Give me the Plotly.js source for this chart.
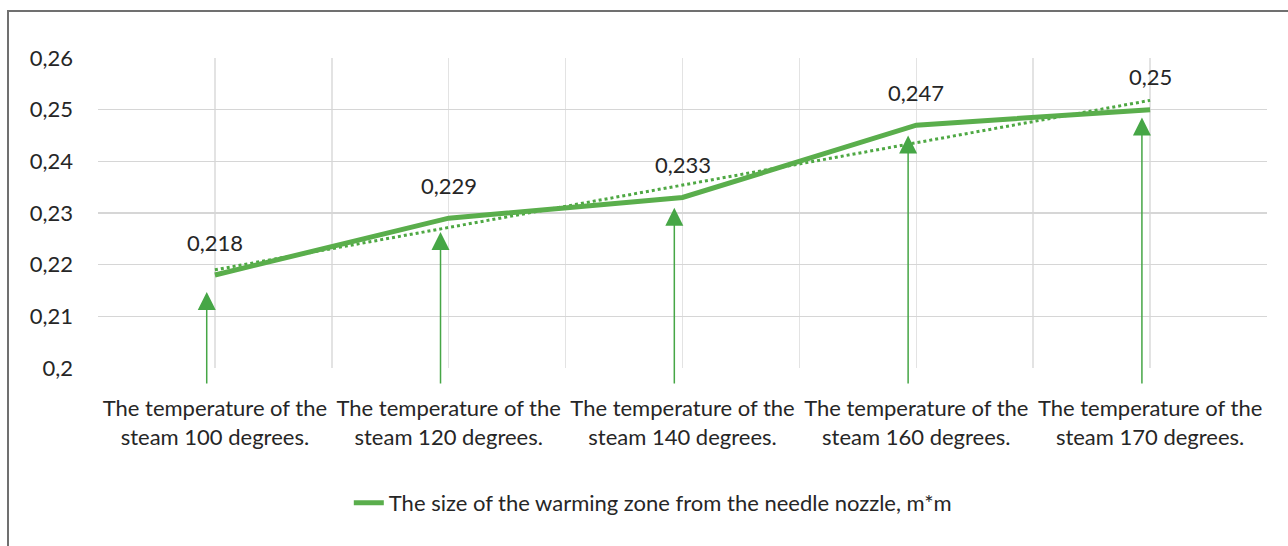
<!DOCTYPE html>
<html>
<head>
<meta charset="utf-8">
<script src="https://cdn.plot.ly/plotly-3.0.1.min.js"></script>
<style>
  html, body { margin: 0; padding: 0; background: #ffffff; }
  #chart { width: 1288px; height: 546px; }
  #frame { position: absolute; left: 7px; top: 10px; width: 1290px; height: 560px;
           border-left: 2px solid #707070; border-top: 2px solid #707070; pointer-events: none; }
</style>
</head>
<body>
<div id="chart"></div>
<div id="frame"></div>
<script>
// ---- data ----
var categories = [
  "The temperature of the<br>steam 100 degrees.",
  "The temperature of the<br>steam 120 degrees.",
  "The temperature of the<br>steam 140 degrees.",
  "The temperature of the<br>steam 160 degrees.",
  "The temperature of the<br>steam 170 degrees."
];
var values = [0.218, 0.229, 0.233, 0.247, 0.25];
var seriesName = "The size of the warming zone from the needle nozzle, m*m";
var yTickVals = [0.2, 0.21, 0.22, 0.23, 0.24, 0.25, 0.26];
var yTickText = ["0,2", "0,21", "0,22", "0,23", "0,24", "0,25", "0,26"];
// arrow tips (drawn arrows below each point)
var arrowTips = [0.2147, 0.2263, 0.2310, 0.2450, 0.2485];
var arrowBase = 0.1967;

// ---- derived ----
var xIdx = categories.map(function (_, i) { return i; });
var labels = values.map(function (v) { return String(v).replace(".", ","); });

// linear trendline (least squares over category index)
var n = values.length;
var mx = xIdx.reduce(function (a, b) { return a + b; }, 0) / n;
var my = values.reduce(function (a, b) { return a + b; }, 0) / n;
var sxy = 0, sxx = 0;
for (var i = 0; i < n; i++) { sxy += (xIdx[i] - mx) * (values[i] - my); sxx += (xIdx[i] - mx) * (xIdx[i] - mx); }
var slope = sxy / sxx, icpt = my - slope * mx;
var trend = xIdx.map(function (x) { return icpt + slope * x; });

var green = "#5aae4c";
var font = "Lato, 'Open Sans', sans-serif";
var fs = 22;

var traces = [
  { x: xIdx, y: trend, mode: "lines", showlegend: false, hoverinfo: "skip",
    line: { color: "#4ea843", width: 3, dash: "dot" } },
  { x: xIdx, y: values, mode: "lines", name: seriesName,
    line: { color: green, width: 5 } }
];

var annotations = [];
for (var j = 0; j < n; j++) {
  annotations.push({ x: xIdx[j], y: values[j], xref: "x", yref: "y", text: labels[j],
    showarrow: false, yshift: 33, font: { family: font, size: fs, color: "#262626" } });
  annotations.push({ x: xIdx[j] - 0.035, y: arrowTips[j], xref: "x", yref: "y",
    ax: xIdx[j] - 0.035, ay: arrowBase, axref: "x", ayref: "y", text: "",
    showarrow: true, arrowhead: 2, arrowsize: 2.4, arrowwidth: 1.5, arrowcolor: "#46a646",
    standoff: 0, startstandoff: 0 });
}

var layout = {
  width: 1288, height: 546,
  margin: { l: 98, r: 21, t: 58, b: 178 },
  paper_bgcolor: "#ffffff", plot_bgcolor: "#ffffff",
  font: { family: font, size: fs, color: "#333333" },
  showlegend: true,
  legend: { orientation: "h", x: 0.4746, xanchor: "center", y: -0.435, yanchor: "middle",
            font: { family: font, size: fs, color: "#262626" } },
  xaxis: { range: [-0.5, 4.5], tickmode: "array", tickvals: xIdx, ticktext: categories,
           tickangle: 0, showgrid: true, gridcolor: "#e3e3e3", gridwidth: 1.5,
           minor: { dtick: 0.5, tick0: -0.5, showgrid: true, gridcolor: "#e3e3e3", gridwidth: 1.5 },
           zeroline: false, showline: false, ticks: "", ticklabelstandoff: 25,
           tickfont: { family: font, size: fs, color: "#262626" }, fixedrange: true },
  yaxis: { range: [0.2, 0.26], tickmode: "array", tickvals: yTickVals, ticktext: yTickText,
           showgrid: true, gridcolor: "#d6d6d6", gridwidth: 1.5, zeroline: false, showline: false,
           ticks: "", ticklabelstandoff: 24,
           tickfont: { family: font, size: fs, color: "#262626" }, fixedrange: true },
  annotations: annotations
};

Plotly.newPlot("chart", traces, layout, { staticPlot: true, displayModeBar: false });
</script>
</body>
</html>
